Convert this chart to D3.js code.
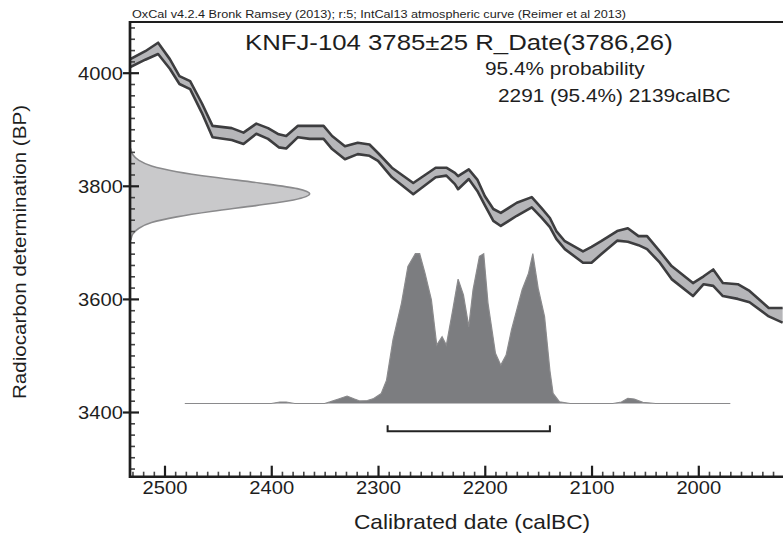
<!DOCTYPE html>
<html><head><meta charset="utf-8">
<script src="https://cdn.jsdelivr.net/npm/d3@7"></script>
<style>
body{margin:0;background:#fff}
svg{display:block}
text{font-family:Arial,"Liberation Sans",sans-serif;fill:#1e1e1e}
</style>
</head><body>
<svg id="chart" width="783" height="547"></svg>
<script>
// ---- data ----
const headerText = "OxCal v4.2.4 Bronk Ramsey (2013); r:5; IntCal13 atmospheric curve (Reimer et al 2013)";
const titleText = "KNFJ-104 3785\u00b125 R_Date(3786,26)";
const probLabel = "95.4% probability";
const rangeLabel = "2291 (95.4%) 2139calBC";
const xTitle = "Calibrated date (calBC)";
const yTitle = "Radiocarbon determination (BP)";

const xTickValues = [2500, 2400, 2300, 2200, 2100, 2000];
const yTickValues = [4000, 3800, 3600, 3400];

// IntCal13 band (calBC year, upper BP, lower BP)
const curveYears = [2532,2518,2506,2495,2486,2476,2465,2455,2437,2426,2414,2403,2393,2386,2375,2364,2351,2343,2331,2319,2308,2300,2287,2267,2246,2236,2228,2225,2215,2207,2200,2192,2185,2170,2156,2147,2139,2133,2125,2108,2100,2091,2076,2066,2056,2048,2036,2025,2005,1995,1986,1977,1963,1952,1934,1921];
const curveUpper = [4024,4038,4053,4024,3994,3985,3946,3906,3902,3894,3910,3902,3891,3888,3906,3906,3906,3888,3870,3876,3873,3858,3832,3805,3832,3832,3823,3817,3829,3811,3782,3759,3752,3770,3780,3761,3743,3720,3702,3684,3692,3702,3720,3725,3711,3711,3684,3658,3628,3640,3652,3628,3626,3614,3584,3584];
const curveLower = [4010,4023,4033,4007,3980,3971,3929,3886,3881,3874,3892,3883,3868,3866,3886,3883,3883,3865,3847,3856,3853,3844,3815,3785,3815,3818,3803,3794,3812,3791,3766,3738,3729,3747,3762,3744,3727,3706,3688,3664,3664,3679,3703,3701,3695,3688,3664,3635,3605,3626,3623,3605,3600,3594,3569,3558];

// calibrated probability distribution (relative)
const distYears = [2481,2400,2392,2386,2378,2350,2345,2337,2329,2322,2317,2310,2304,2297,2292,2286,2278,2272,2265,2261,2256,2250,2245,2240,2236,2230,2225,2220,2215,2211,2205,2201,2197,2190,2185,2180,2175,2165,2159,2155,2150,2144,2139,2136,2130,2120,2080,2072,2066,2060,2052,2040,1970];
const distProb  = [0,0,0.01,0.01,0,0,0.011,0.03,0.05,0.03,0.017,0.02,0.033,0.067,0.156,0.424,0.67,0.915,1.0,1.0,0.87,0.692,0.39,0.446,0.39,0.625,0.83,0.725,0.513,0.759,0.982,1.0,0.67,0.335,0.256,0.323,0.491,0.759,0.87,1.0,0.77,0.58,0.22,0.067,0.011,0,0,0.01,0.035,0.03,0.008,0,0];

// radiocarbon measurement distribution (relative)
const rdateBP   = [3865,3855,3845,3835,3825,3815,3805,3795,3786,3775,3765,3755,3745,3735,3725,3715,3705];
const rdateProb = [0.005,0.016,0.05,0.12,0.26,0.47,0.72,0.93,1.0,0.91,0.70,0.46,0.26,0.12,0.05,0.016,0.005];

const rangeFrom = 2291, rangeTo = 2139;

// ---- layout ----
const svg = d3.select("#chart");
const L = 130, R = 783, T = 22, B = 476.7;
const SX = 1.12; // horizontal stretch of the reference's lettering

const x = d3.scaleLinear().domain([2500, 2000]).range([164.5, 698.3]);
const y = d3.scaleLinear().domain([4000, 3400]).range([72.7, 412]);
const yDist = d3.scaleLinear().domain([0, 1]).range([y(3415), y(3680)]);
const xNorm = d3.scaleLinear().domain([0, 1]).range([L, x(2364)]);

svg.append("defs").append("clipPath").attr("id", "clip")
  .append("rect").attr("x", L).attr("y", T).attr("width", R - L).attr("height", B - T);

const plot = svg.append("g").attr("clip-path", "url(#clip)");

// R_Date normal distribution on the y axis
const rdate = rdateBP.map((b, i) => ({b, p: rdateProb[i]}));
plot.append("path").datum(rdate)
  .attr("d", d3.area().curve(d3.curveMonotoneY).y(d => y(d.b)).x0(xNorm(0)).x1(d => xNorm(d.p)))
  .attr("fill", "#c9c9cb").attr("stroke", "#8a8a8c").attr("stroke-width", 1.6);

// calibrated distribution
const dist = distYears.map((yr, i) => ({yr, p: distProb[i]}));
plot.append("path").datum(dist)
  .attr("d", d3.area().x(d => x(d.yr)).y0(yDist(0)).y1(d => yDist(d.p)))
  .attr("fill", "#7c7d80");
plot.append("path").datum(dist)
  .attr("d", d3.line().x(d => x(d.yr)).y(d => yDist(d.p)))
  .attr("fill", "none").attr("stroke", "#8a8a8c").attr("stroke-width", 1.2);

// calibration curve band
const band = curveYears.map((yr, i) => ({yr, u: curveUpper[i], l: curveLower[i]}));
plot.append("path").datum(band)
  .attr("d", d3.area().x(d => x(d.yr)).y0(d => y(d.l)).y1(d => y(d.u)))
  .attr("fill", "#b6b6b9");
["u", "l"].forEach(k => {
  plot.append("path").datum(band)
    .attr("d", d3.line().x(d => x(d.yr)).y(d => y(d[k])))
    .attr("fill", "none").attr("stroke", "#3d3d3f").attr("stroke-width", 2.6)
    .attr("stroke-linejoin", "round");
});

// 95.4% range bracket
const bY = y(3366), bH = 6;
svg.append("path")
  .attr("d", `M${x(rangeFrom)},${bY - bH}V${bY}H${x(rangeTo)}V${bY - bH}`)
  .attr("fill", "none").attr("stroke", "#222").attr("stroke-width", 2);

// ---- axes ----
const xMinor = d3.range(2530, 1920, -10).filter(v => v % 100 !== 0);
const yMinor = d3.range(4080, 3290, -20).filter(v => v % 200 !== 0);

const gxMinor = svg.append("g").attr("transform", `translate(0,${B})`)
  .call(d3.axisBottom(x).tickValues(xMinor).tickSize(-5).tickFormat(""));
const gxMajor = svg.append("g").attr("transform", `translate(0,${B})`)
  .call(d3.axisBottom(x).tickValues(xTickValues).tickSize(-11).tickPadding(5).tickFormat(d3.format("d")));
const gyMinor = svg.append("g").attr("transform", `translate(${L},0)`)
  .call(d3.axisRight(y).tickValues(yMinor).tickSize(5).tickFormat(""));
const gyMajorIn = svg.append("g").attr("transform", `translate(${L},0)`)
  .call(d3.axisRight(y).tickValues(yTickValues).tickSize(9).tickFormat(""));
const gyMajor = svg.append("g").attr("transform", `translate(${L},0)`)
  .call(d3.axisLeft(y).tickValues(yTickValues).tickSize(7).tickPadding(1).tickFormat(d3.format("d")));

[gxMinor, gxMajor, gyMinor, gyMajorIn, gyMajor].forEach(g => g.select(".domain").remove());
[gxMinor, gyMinor].forEach(g => g.selectAll("line").attr("stroke", "#444").attr("stroke-width", 1.6));
[gxMajor, gyMajorIn, gyMajor].forEach(g => g.selectAll("line").attr("stroke", "#1e1e1e").attr("stroke-width", 2.2));

gxMajor.selectAll("text")
  .attr("font-size", 18).attr("fill", "#1e1e1e")
  .attr("font-family", "Arial, 'Liberation Sans', sans-serif")
  .attr("y", 17.3).attr("dy", null)
  .attr("transform", `scale(${SX},1)`);
gyMajor.selectAll("text")
  .attr("font-size", 18).attr("fill", "#1e1e1e")
  .attr("font-family", "Arial, 'Liberation Sans', sans-serif")
  .attr("x", -6.3).attr("dy", "0.36em")
  .attr("transform", `scale(${SX},1)`);

// frame lines
svg.append("line").attr("x1", L).attr("x2", R).attr("y1", T).attr("y2", T)
  .attr("stroke", "#1e1e1e").attr("stroke-width", 2);
svg.append("line").attr("x1", L).attr("x2", R).attr("y1", B).attr("y2", B)
  .attr("stroke", "#1e1e1e").attr("stroke-width", 2.6);
svg.append("line").attr("x1", L).attr("x2", L).attr("y1", T - 1).attr("y2", B + 1.3)
  .attr("stroke", "#1e1e1e").attr("stroke-width", 2.7);

// ---- texts ----
function stretchedText(txt, px, py, size, anchor, rot) {
  const g = svg.append("g").attr("transform", `translate(${px},${py})` + (rot ? ` rotate(${rot})` : "") + ` scale(${SX},1)`);
  g.append("text").attr("text-anchor", anchor || "start").attr("font-size", size).text(txt);
}
stretchedText(headerText, 132, 17.5, 11.3);
stretchedText(titleText, 245, 50, 23);
stretchedText(probLabel, 485, 75, 18.6);
stretchedText(rangeLabel, 498, 101.7, 18.6);
stretchedText(xTitle, 472, 529, 20.3, "middle");
stretchedText(yTitle, 26, 252, 18.4, "middle", -90);
</script>
</body></html>
